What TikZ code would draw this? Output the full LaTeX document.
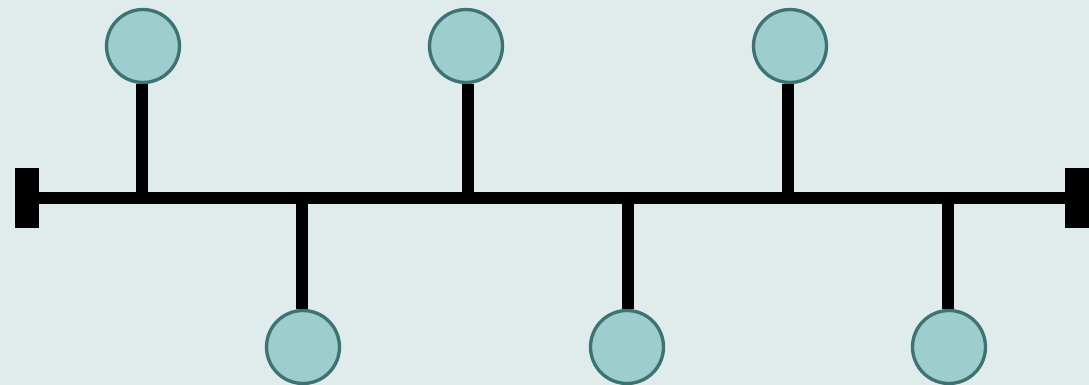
\documentclass[tikz,border=0pt]{standalone}
\usepackage{tikz}
\usetikzlibrary{positioning}
\definecolor{bgcol}{HTML}{E0ECEC}
\definecolor{stationfill}{HTML}{9DCDCD}
\definecolor{stationdraw}{HTML}{3D7373}
\tikzset{station/.style={draw=stationdraw, fill=stationfill, circle, line width=1.9pt, minimum size=1.46cm, inner sep=0pt},
         endcap/.style={draw=none, fill=black, rectangle, minimum width=0.48cm, minimum height=1.22cm, inner sep=0pt},
         bus/.style={line width=6.3pt},
         stem/.style={line width=6.6pt}}

\begin{document}
\begin{tikzpicture}[x=0.02cm, y=-0.02cm]
        \useasboundingbox (0,0) rectangle (1089,385);
        \fill[bgcol] (0,0) rectangle (1089,385);

        \node[endcap] (capL) at (27,198) {};
        \node[endcap] (capR) at (1077,198) {};

        \coordinate (b1) at (142,196.5);
        \coordinate (b2) at (302,196.5);
        \coordinate (b3) at (468,196.5);
        \coordinate (b4) at (628,196.5);
        \coordinate (b5) at (788,196.5);
        \coordinate (b6) at (948,196.5);

        \node[station] (t1) at (143,46) {};
        \node[station] (d1) at (303,347) {};
        \node[station] (t2) at (466,46) {};
        \node[station] (d2) at (627,347) {};
        \node[station] (t3) at (790,46) {};
        \node[station] (d3) at (949,347) {};

        \draw[bus] (capL) -- (capR);
        \draw[stem] (b1) -- (b1 |- t1.south);
        \draw[stem] (b2) -- (b2 |- d1.north);
        \draw[stem] (b3) -- (b3 |- t2.south);
        \draw[stem] (b4) -- (b4 |- d2.north);
        \draw[stem] (b5) -- (b5 |- t3.south);
        \draw[stem] (b6) -- (b6 |- d3.north);
    \end{tikzpicture}
\end{document}
